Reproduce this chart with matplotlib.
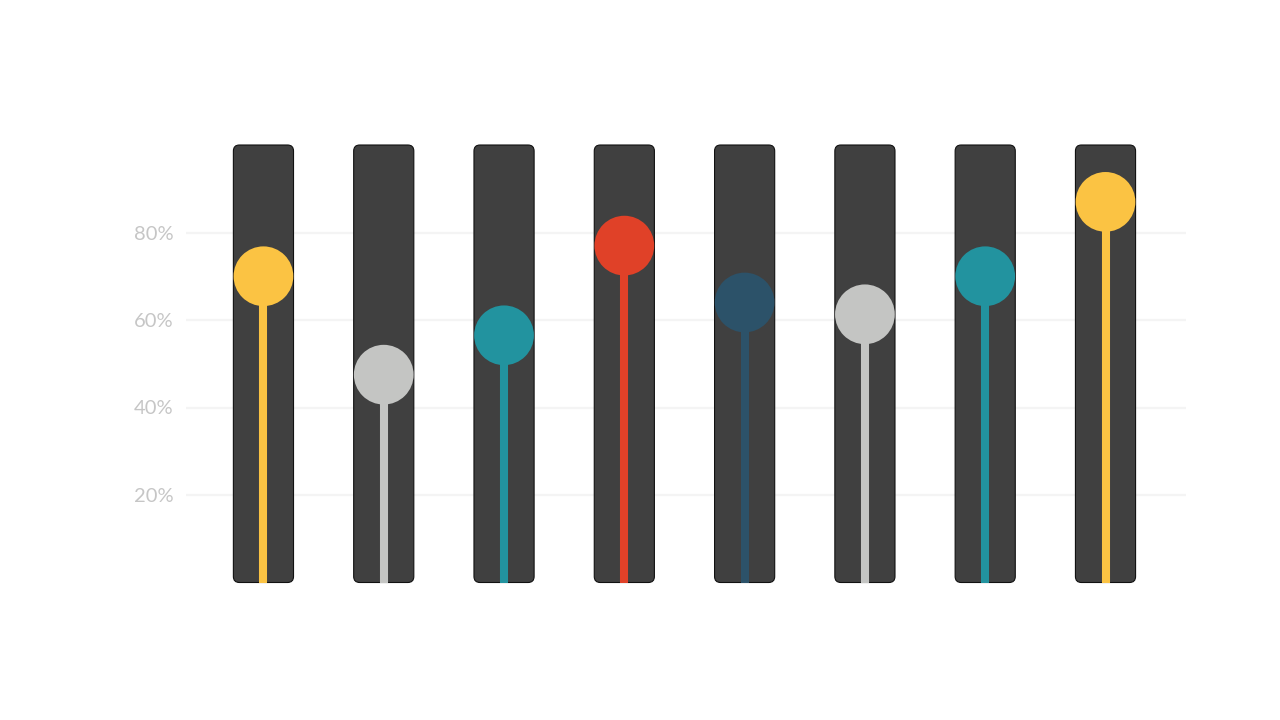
import matplotlib
matplotlib.use("Agg")
import matplotlib.pyplot as plt
from matplotlib.patches import FancyBboxPatch

# values (percent)
values = [70, 47.5, 56.5, 77, 64, 61.3, 70, 87]
colors = ["#FBC343", "#C4C5C3", "#22939F", "#E04128",
          "#2C5269", "#C4C5C3", "#22939F", "#FBC343"]
yticks = [20, 40, 60, 80]
ytick_labels = ["20%", "40%", "60%", "80%"]

plt.rcParams["font.family"] = ["Lato", "DejaVu Sans"]

fig = plt.figure(figsize=(12.8, 7.2), dpi=100)
ax = fig.add_axes([185.5 / 1280, 137.5 / 720, 1000 / 1280, 437.5 / 720])

ax.set_xlim(-0.648, 7.665)
ax.set_ylim(0, 100)

# grid
for t in yticks:
    ax.axhline(t, color="#F4F4F4", lw=1.6, zorder=0)

bar_w = 0.5
for i, (v, c) in enumerate(zip(values, colors)):
    track = FancyBboxPatch((i - bar_w / 2, 0), bar_w, 100,
                           boxstyle="round,pad=0,rounding_size=0.05",
                           mutation_aspect=27.5,
                           facecolor="#404040", edgecolor="#111111",
                           lw=0.8, zorder=2, clip_on=False)
    ax.add_patch(track)
    ax.plot([i, i], [0, v], color=c, lw=5.8, solid_capstyle="butt", zorder=3)
    ax.scatter([i], [v], s=1850, color=c, edgecolors="none", zorder=4, clip_on=False)

ax.set_yticks(yticks)
ax.set_yticklabels(ytick_labels)
ax.set_xticks([])
ax.tick_params(axis="y", length=0, pad=8.5, labelsize=14.5, labelcolor="#C6C6C6")
for s in ax.spines.values():
    s.set_visible(False)

fig.savefig("out.png", dpi=100)
